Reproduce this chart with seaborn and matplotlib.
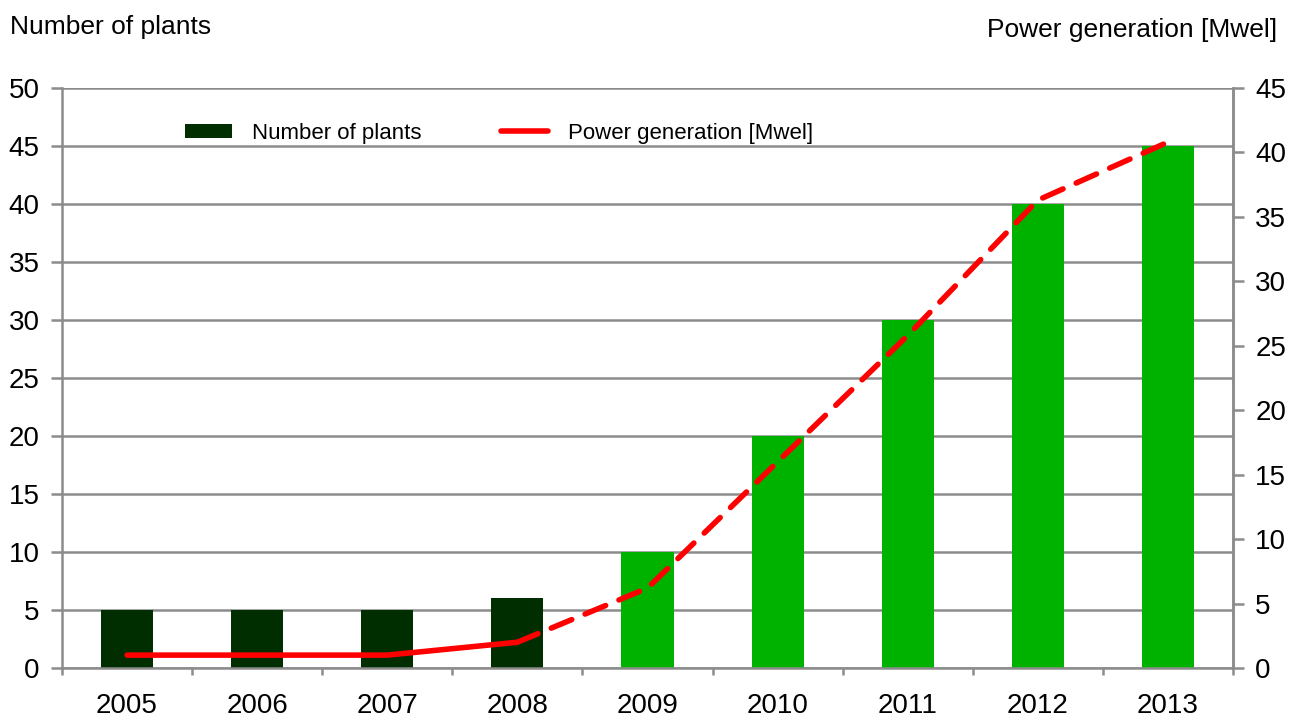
import matplotlib
matplotlib.use("Agg")
import matplotlib.pyplot as plt
import seaborn as sns
import pandas as pd
from matplotlib.lines import Line2D
from matplotlib.patches import Patch

years = ["2005", "2006", "2007", "2008", "2009", "2010", "2011", "2012", "2013"]
plants = [5, 5, 5, 6, 10, 20, 30, 40, 45]
power = [1.0, 1.0, 1.0, 2.0, 6.2, 16.0, 25.8, 36.3, 40.8]
bar_colors = ["#002E00", "#002E00", "#002E00", "#002E00",
              "#00B200", "#00B200", "#00B200", "#00B200", "#00B200"]

sns.set_theme(style="white")
plt.rcParams["font.family"] = ["Liberation Sans", "DejaVu Sans"]
plt.rcParams["text.color"] = "black"

grey = "#8c8c8c"
fig = plt.figure(figsize=(12.92, 7.22), dpi=100)
ax = fig.add_axes([62/1292, 1-668/722, (1233-62)/1292, (668-88)/722])

df = pd.DataFrame({"year": years, "plants": plants, "power": power})
sns.barplot(data=df, x="year", y="plants", hue="year", palette=bar_colors,
            legend=False, width=0.4, ax=ax, saturation=1, zorder=2,
            linewidth=0, edgecolor="none")
ax.set_xlim(-0.5, 8.5)
ax.set_ylim(0, 50)
ax.set_yticks(range(0, 51, 5))
ax.yaxis.grid(True, color=grey, linewidth=1.8, zorder=0)
ax.set_axisbelow(True)
ax.set_xlabel("")
ax.set_ylabel("")
ax.spines["top"].set_visible(False)
for s in ["left", "bottom", "right"]:
    ax.spines[s].set_color(grey)
    ax.spines[s].set_linewidth(1.8)
ax.tick_params(axis="y", which="major", left=True, length=8, width=1.8,
               color=grey, labelsize=20, pad=8, labelcolor="black")
ax.tick_params(axis="x", which="major", bottom=False, labelsize=20, pad=12,
               labelcolor="black")
ax.set_xticks([i + 0.5 for i in range(-1, 9)], minor=True)
ax.tick_params(axis="x", which="minor", bottom=True, length=5, width=1.8,
               color=grey)

ax2 = ax.twinx()
ax2.set_ylim(0, 45)
ax2.set_yticks(range(0, 46, 5))
for s in ["top", "left", "bottom"]:
    ax2.spines[s].set_visible(False)
ax2.spines["right"].set_color(grey)
ax2.spines["right"].set_linewidth(1.8)
ax2.tick_params(axis="y", right=True, length=8, width=1.8, color=grey,
                labelsize=20, pad=8, labelcolor="black")
ax2.grid(False)

x_pos = list(range(len(years)))
solid = df.iloc[:4].assign(x=x_pos[:4])
dashed = df.iloc[3:].assign(x=x_pos[3:])
sns.lineplot(data=solid, x="x", y="power", ax=ax2, color="#FF0000",
             linewidth=4, solid_capstyle="round", zorder=3)
sns.lineplot(data=dashed, x="x", y="power", ax=ax2, color="#FF0000",
             linewidth=4, dashes=False, zorder=3)
ax2.lines[-1].set_dashes((4, 2.6))
ax2.lines[-1].set_dash_capstyle("round")
ax2.set_xlim(-0.5, 8.5)
ax2.set_xlabel("")
ax2.set_ylabel("")

handles = [Patch(facecolor="#002E00", edgecolor="none"),
           Line2D([0], [0], color="#FF0000", linewidth=4, solid_capstyle="round")]
leg = ax.legend(handles, ["Number of plants", "Power generation [Mwel]"],
                loc="upper left", bbox_to_anchor=(0.088, 0.975), ncol=2,
                frameon=False, fontsize=16, handlelength=2.1, handleheight=0.6,
                columnspacing=3.6, handletextpad=0.9)

fig.text(10/1292, 1-27/722, "Number of plants", fontsize=19, ha="left", va="center")
fig.text(1277/1292, 1-30/722, "Power generation [Mwel]", fontsize=19, ha="right", va="center")

fig.savefig("out.png", dpi=100)
